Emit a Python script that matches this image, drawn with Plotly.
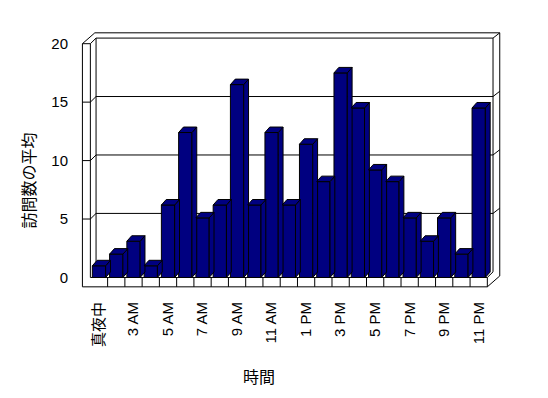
import plotly.graph_objects as go

# ---- data ----
hours = ["真夜中", "2 AM", "3 AM", "4 AM", "5 AM", "6 AM", "7 AM", "8 AM", "9 AM",
         "10 AM", "11 AM", "正午", "1 PM", "2 PM", "3 PM", "4 PM", "5 PM", "6 PM",
         "7 PM", "8 PM", "9 PM", "10 PM", "11 PM"]
visits = [1.0, 2.0, 3.1, 1.0, 6.2, 12.4, 5.1, 6.2, 16.5, 6.2, 12.4, 6.2,
          11.4, 8.2, 17.5, 14.5, 9.2, 8.2, 5.1, 3.1, 5.1, 2.0, 14.5]
y_ticks = [0, 5, 10, 15, 20]
y_title = "訪問数の平均"
x_title = "時間"

# ---- styling / geometry ----
NAVY = "#000080"
FONT = "Liberation Sans, Noto Sans CJK JP, sans-serif"
n = len(hours)
idx = list(range(n))
HALF = 0.385          # half width of bar front face (category units)
BX, BY = 0.28, 0.47   # bar depth offset
DX, DY = 0.33, 0.48   # front plane -> back wall offset
WX, WY = 0.39, 0.45   # back wall thickness
LW = 0.46             # left wall thickness (x units)
FL = 0.8              # floor thickness (y units)
YMAX = y_ticks[-1]
X0, X1 = -0.5, n - 0.5

PAGE_OFF = 8          # default body margin of the html page
W, H = 548 - PAGE_OFF, 398 - PAGE_OFF
XR = [-1.1, 23.35]
YR = [-0.9, 21.0]
PX_PER_X = 17.27
PX_PER_Y = 11.67
L = 98.635 + PX_PER_X * XR[0]          # page-pixel position of plot left
PW = PX_PER_X * (XR[1] - XR[0])
T = 277.3 - PX_PER_Y * YR[1]           # page-pixel position of plot top
PH = PX_PER_Y * (YR[1] - YR[0])
ML = L - PAGE_OFF
MT = T - PAGE_OFF
MR = W - ML - PW
MB = H - MT - PH

fig = go.Figure()

# front faces
fig.add_trace(go.Bar(x=idx, y=visits, width=2 * HALF,
                     marker=dict(color=NAVY, line=dict(color="black", width=1)),
                     hoverinfo="skip", showlegend=False))

# side and top faces
sx, sy, tx, ty = [], [], [], []
for i, v in zip(idx, visits):
    sx += [i + HALF, i + HALF + BX, i + HALF + BX, i + HALF, i + HALF, None]
    sy += [0, BY, v + BY, v, 0, None]
    tx += [i - HALF, i + HALF, i + HALF + BX, i - HALF + BX, i - HALF, None]
    ty += [v, v, v + BY, v + BY, v, None]
for xs, ys in ((sx, sy), (tx, ty)):
    fig.add_trace(go.Scatter(x=xs, y=ys, mode="lines", fill="toself",
                             fillcolor=NAVY, line=dict(color="black", width=1),
                             hoverinfo="skip", showlegend=False))

# ---- frame (walls, floor, gridlines) ----
shapes = []
def seg(x0, y0, x1, y1):
    shapes.append(dict(type="line", xref="x", yref="y", x0=x0, y0=y0, x1=x1, y1=y1,
                       line=dict(color="black", width=1), layer="below"))

xl = X0 - LW
# left wall front face
seg(xl, -FL, xl, YMAX)
seg(X0, 0, X0, YMAX)
seg(xl, YMAX, X0, YMAX)
# floor front face
seg(xl, -FL, X1, -FL)
seg(X0, 0, X1, 0)
seg(X1, -FL, X1, 0)
for k in range(1, n):
    seg(k - 0.5, -FL, k - 0.5, 0)
# floor right side
seg(X1, -FL, X1 + DX + WX, -FL + DY + WY)
seg(X1, 0, X1 + DX, DY)
# left wall top
seg(xl, YMAX, xl + DX + WX, YMAX + DY + WY)
seg(X0, YMAX, X0 + DX, YMAX + DY)
# back wall outer
seg(xl + DX + WX, YMAX + DY + WY, X1 + DX + WX, YMAX + DY + WY)
seg(X1 + DX + WX, -FL + DY + WY, X1 + DX + WX, YMAX + DY + WY)
# back wall inner
seg(X0 + DX, YMAX + DY, X1 + DX, YMAX + DY)
seg(X0 + DX, DY, X0 + DX, YMAX + DY)
seg(X1 + DX, DY, X1 + DX, YMAX + DY)
seg(X1 + DX, YMAX + DY, X1 + DX + WX, YMAX + DY + WY)
# gridlines
for v in y_ticks[1:-1]:
    seg(xl, v, X0, v)
    seg(X0, v, X0 + DX, v + DY)
    seg(X0 + DX, v + DY, X1 + DX, v + DY)
    seg(X1 + DX, v + DY, X1 + DX + WX, v + DY + WY)

fig.update_layout(
    width=W, height=H,
    margin=dict(l=ML, r=MR, t=MT, b=MB, pad=0),
    paper_bgcolor="white", plot_bgcolor="white",
    shapes=shapes,
    showlegend=False,
    font=dict(family=FONT, size=15, color="black"),
    xaxis=dict(range=XR, tickmode="array", tickvals=idx[::2], ticktext=hours[::2],
               tickangle=-90, showgrid=False, zeroline=False, showline=False,
               ticks="outside", ticklen=7, tickcolor="rgba(0,0,0,0)",
               tickfont=dict(family=FONT, size=15, color="black"), automargin=False),
    yaxis=dict(range=YR, tickmode="array", tickvals=y_ticks,
               showgrid=False, zeroline=False, showline=False,
               ticks="outside", ticklen=8, tickcolor="rgba(0,0,0,0)",
               tickfont=dict(family=FONT, size=15, color="black"), automargin=False),
    annotations=[
        dict(text=y_title, xref="paper", yref="paper",
             x=(28 - L) / PW, y=(T + PH - 180) / PH, xanchor="center", yanchor="middle",
             textangle=-90, showarrow=False,
             font=dict(family="Noto Sans CJK JP", size=16, color="black")),
        dict(text=x_title, xref="paper", yref="paper",
             x=(258.5 - L) / PW, y=(T + PH - 375.5) / PH, xanchor="center", yanchor="middle",
             showarrow=False,
             font=dict(family="Noto Sans CJK JP", size=16, color="black")),
    ],
)

fig.write_html("out.html")
